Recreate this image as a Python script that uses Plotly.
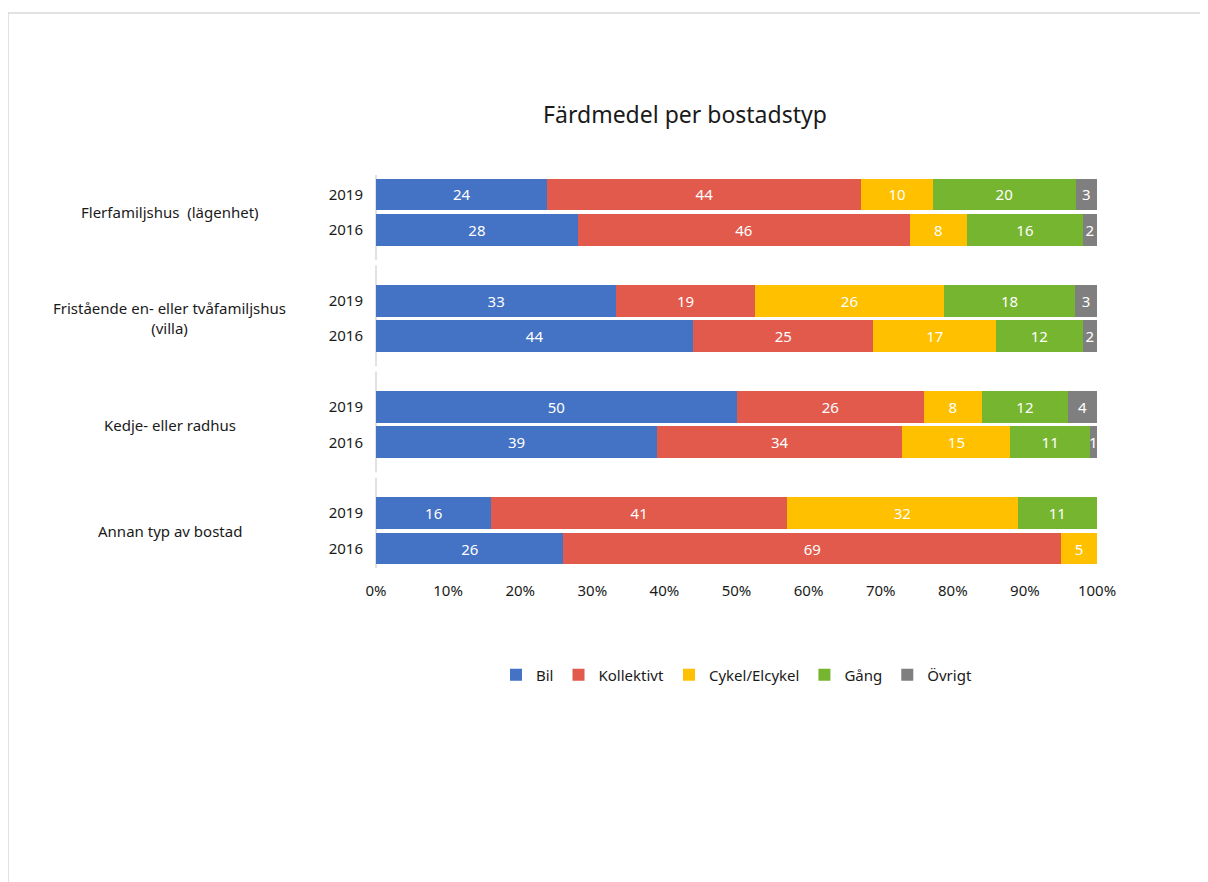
import plotly.graph_objects as go

# Data
GROUPS = [
    "Flerfamiljshus  (lägenhet)",
    "Fristående en- eller tvåfamiljshus<br>(villa)",
    "Kedje- eller radhus",
    "Annan typ av bostad",
]
YEARS = ["2019", "2016"]
SERIES = ["Bil", "Kollektivt", "Cykel/Elcykel", "Gång", "Övrigt"]

# rows: group0 2019, group0 2016, group1 2019, ...
BIL = [24, 28, 33, 44, 50, 39, 16, 26]
KOLLEKTIVT = [44, 46, 19, 25, 26, 34, 41, 69]
CYKEL = [10, 8, 26, 17, 8, 15, 32, 5]
GANG = [20, 16, 18, 12, 12, 11, 11, 0]
OVRIGT = [3, 2, 3, 2, 4, 1, 0, 0]

COLORS = ["#4472C4", "#E15A4B", "#FFC000", "#76B52F", "#7F7F7F"]
FONT = "Noto Sans, Open Sans, sans-serif"
INK = "#1A1A1A"
BORDER = "#D9D9D9"

# y positions: each group takes 3 slots (2 bars + 1 blank)
ypos = [3 * g + i for g in range(len(GROUPS)) for i in range(len(YEARS))]
ylabels = [y for _ in GROUPS for y in YEARS]

fig = go.Figure()
for name, vals, col in zip(SERIES, [BIL, KOLLEKTIVT, CYKEL, GANG, OVRIGT], COLORS):
    fig.add_trace(go.Bar(
        name=name, y=ypos, x=vals, orientation="h",
        marker=dict(color=col, line=dict(width=0)),
        width=0.9,
        text=[str(v) for v in vals],
        textposition="inside",
        insidetextanchor="middle",
        textfont=dict(color="white", size=15, family=FONT),
        hovertemplate="%{x}<extra>" + name + "</extra>",
    ))

for g, label in enumerate(GROUPS):
    fig.add_annotation(
        text=label, xref="paper", yref="y", x=-0.286, y=3 * g + 0.5,
        xanchor="center", yanchor="middle", showarrow=False,
        font=dict(size=15, color=INK, family=FONT),
    )
    # axis line segment for each group
    fig.add_shape(
        type="line", xref="paper", yref="y", x0=0, x1=0,
        y0=max(3 * g - 1.0, -0.55), y1=min(3 * g + 1.85, 10.55),
        line=dict(color=BORDER, width=1.5), layer="below",
    )

# outer chart border
fig.add_shape(
    type="rect", xref="paper", yref="paper", x0=-0.5104, x1=1.25, y0=-0.9, y1=1.412,
    line=dict(color=BORDER, width=1.5), fillcolor="rgba(0,0,0,0)",
)

fig.update_layout(
    width=1200, height=874,
    margin=dict(l=368, r=111, t=167, b=314),
    paper_bgcolor="white", plot_bgcolor="white",
    barmode="stack", barnorm="percent",
    font=dict(family=FONT, size=15, color=INK),
    uniformtext=dict(minsize=15, mode="show"),
    title=dict(text="Färdmedel per bostadstyp", x=677 / 1200, xref="container", xanchor="center",
               y=1 - 107 / 874, yref="container", yanchor="middle",
               font=dict(size=23, color=INK, family=FONT)),
    legend=dict(orientation="h", x=0.5, xanchor="center", y=-0.272, yanchor="middle",
                font=dict(size=15, color=INK, family=FONT), traceorder="normal",
                itemwidth=30, itemsizing="constant"),
)
fig.update_xaxes(range=[0, 100], dtick=10, ticksuffix="%", showgrid=False, zeroline=False,
                 showline=False, tickfont=dict(size=15, color=INK), ticks="",
                 ticklabelstandoff=12)
fig.update_yaxes(range=[10.55, -0.55], tickvals=ypos, ticktext=ylabels, showgrid=False,
                 zeroline=False, showline=False, ticks="", ticklabelstandoff=12,
                 tickfont=dict(size=15, color=INK))

fig.write_html("out.html")
